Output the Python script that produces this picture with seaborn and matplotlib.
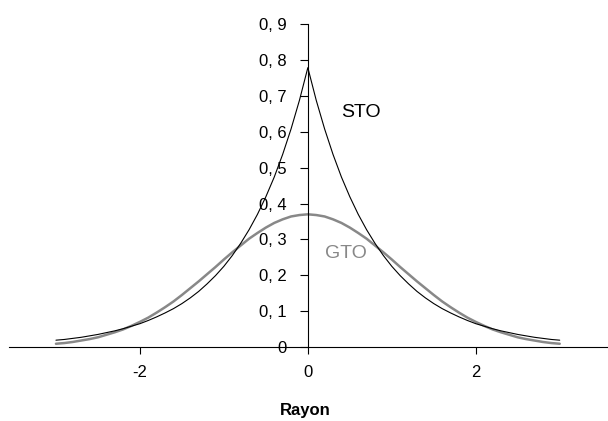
import seaborn as sns
import pandas as pd
import matplotlib
matplotlib.use("Agg")
import matplotlib.pyplot as plt
from matplotlib.ticker import FixedLocator, FuncFormatter

# Values (radius, amplitude)
rayon = [-3.0, -2.9, -2.8, -2.7, -2.6, -2.5, -2.4, -2.3, -2.2, -2.1,
         -2.0, -1.9, -1.8, -1.7, -1.6, -1.5, -1.4, -1.3, -1.2, -1.1,
         -1.0, -0.9, -0.8, -0.7, -0.6, -0.5, -0.4, -0.3, -0.2, -0.1,
         0.0,
         0.1, 0.2, 0.3, 0.4, 0.5, 0.6, 0.7, 0.8, 0.9, 1.0,
         1.1, 1.2, 1.3, 1.4, 1.5, 1.6, 1.7, 1.8, 1.9, 2.0,
         2.1, 2.2, 2.3, 2.4, 2.5, 2.6, 2.7, 2.8, 2.9, 3.0]
sto = [0.019, 0.021, 0.024, 0.027, 0.031, 0.035, 0.040, 0.045, 0.051, 0.058,
       0.065, 0.074, 0.084, 0.095, 0.107, 0.121, 0.137, 0.155, 0.176, 0.199,
       0.225, 0.255, 0.289, 0.327, 0.370, 0.419, 0.474, 0.537, 0.608, 0.688,
       0.779,
       0.688, 0.608, 0.537, 0.474, 0.419, 0.370, 0.327, 0.289, 0.255, 0.225,
       0.199, 0.176, 0.155, 0.137, 0.121, 0.107, 0.095, 0.084, 0.074, 0.065,
       0.058, 0.051, 0.045, 0.040, 0.035, 0.031, 0.027, 0.024, 0.021, 0.019]
gto = [0.009, 0.011, 0.014, 0.018, 0.022, 0.027, 0.034, 0.041, 0.049, 0.059,
       0.070, 0.082, 0.096, 0.111, 0.127, 0.145, 0.164, 0.183, 0.203, 0.223,
       0.244, 0.264, 0.283, 0.302, 0.318, 0.333, 0.346, 0.356, 0.364, 0.368,
       0.370,
       0.368, 0.364, 0.356, 0.346, 0.333, 0.318, 0.302, 0.283, 0.264, 0.244,
       0.223, 0.203, 0.183, 0.164, 0.145, 0.127, 0.111, 0.096, 0.082, 0.070,
       0.059, 0.049, 0.041, 0.034, 0.027, 0.022, 0.018, 0.014, 0.011, 0.009]
y_ticks = [0.0, 0.1, 0.2, 0.3, 0.4, 0.5, 0.6, 0.7, 0.8, 0.9]
x_ticks = [-2, 0, 2]

df = pd.DataFrame({"Rayon": rayon, "STO": sto, "GTO": gto})

sns.set_theme(style="white")
plt.rcParams["font.family"] = ["Liberation Sans", "DejaVu Sans"]
plt.rcParams["axes.unicode_minus"] = False
plt.rcParams["text.color"] = "black"

fig = plt.figure(figsize=(6.08, 4.21), dpi=100)
ax = fig.add_axes([0.014, 0.1758, 0.986, 0.7665])

sns.lineplot(data=df, x="Rayon", y="GTO", ax=ax, color="#888888", linewidth=1.8)
sns.lineplot(data=df, x="Rayon", y="STO", ax=ax, color="black", linewidth=0.8)

ax.set_xlim(-3.565, 3.575)
ax.set_ylim(0, 0.9)

# axes crossing at the origin
ax.spines["left"].set_position(("data", 0))
ax.spines["bottom"].set_position(("data", 0))
ax.spines["top"].set_visible(False)
ax.spines["right"].set_visible(False)
for s in ("left", "bottom"):
    ax.spines[s].set_color("black")
    ax.spines[s].set_linewidth(0.8)

ax.xaxis.set_major_locator(FixedLocator(x_ticks))
ax.yaxis.set_major_locator(FixedLocator(y_ticks))
ax.yaxis.set_major_formatter(FuncFormatter(
    lambda v, p: "0" if v == 0 else f"{v:.1f}".replace(".", ", ")))
ax.tick_params(axis="y", direction="out", length=5.5, width=0.8, pad=10,
               labelsize=12, colors="black", left=True)
ax.tick_params(axis="x", direction="out", length=5, width=0.8, pad=8,
               labelsize=12, colors="black", bottom=True)

ax.set_xlabel("")
ax.set_ylabel("")

ax.text(0.63, 0.655, "STO", fontsize=14, color="black", ha="center", va="center")
ax.text(0.45, 0.262, "GTO", fontsize=14, color="#888888", ha="center", va="center")

fig.text(305 / 608, 1 - 411 / 421, "Rayon", fontsize=12, fontweight="bold",
         color="black", ha="center", va="center")

fig.savefig("out.png", dpi=100)
